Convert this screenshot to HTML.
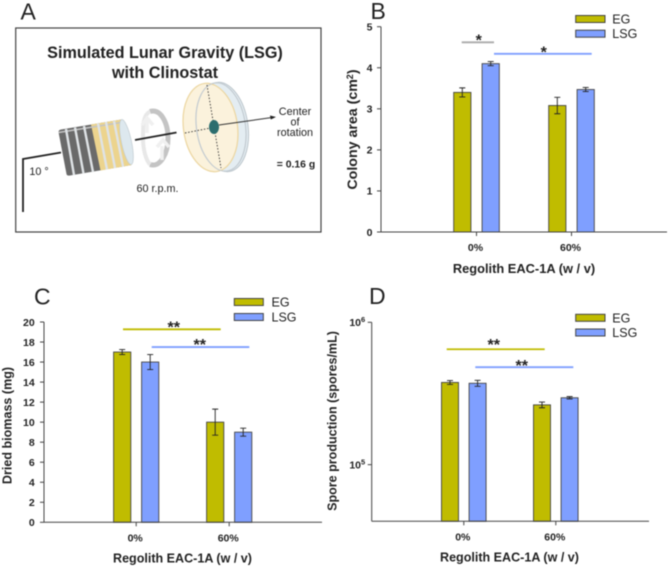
<!DOCTYPE html>
<html lang="en">
<head>
<meta charset="utf-8">
<title>Simulated lunar gravity figure</title>
<style>
html,body{margin:0;padding:0;background:#fff;width:669px;height:567px;overflow:hidden}
svg{display:block;filter:blur(0.4px)}
text{font-family:"Liberation Sans",sans-serif;fill:#222}
.tick{font-size:10.5px;font-weight:bold}
.title{font-size:12.55px;font-weight:bold}
.leg{font-size:12.5px}
.panel{font-size:23px}
.star{font-size:16px;font-weight:bold;text-anchor:middle}
</style>
</head>
<body>
<svg id="fig" xmlns="http://www.w3.org/2000/svg" width="669" height="567" viewBox="0 0 669 567">
  <g id="panel-a">
    <text class="panel" x="20.5" y="19.5">A</text>
    <rect x="15.7" y="28" width="305.3" height="204" fill="#fff" stroke="#444" stroke-width="1.2"/>
    <text x="165" y="58" text-anchor="middle" font-size="16.2" font-weight="bold" fill="#111">Simulated Lunar Gravity (LSG)</text>
    <text x="165" y="78" text-anchor="middle" font-size="16.2" font-weight="bold" fill="#111">with Clinostat</text>
    <path d="M23 212V159L61 152.5" fill="none" stroke="#222" stroke-width="1.8"/>
    <g>
      <path d="M58.5 132Q58.5 130 61 129.5L121.5 119.5L131.5 165L70 175.5Q67 176 66.5 174Z" fill="#6a6a6a"/>
      <path d="M91 124.5L121.5 119.5L131.5 165L100.5 170.5Z" fill="#ecd48e"/>
      <path d="M58.5 132.5L124 122" stroke="#c4c4c4" stroke-width="1.5" fill="none"/>
      <g stroke="#dfe3e6" stroke-width="2.4" fill="none">
        <path d="M66 129L74 175"/><path d="M75 127.5L83.5 173.5"/><path d="M84 126L93 172"/>
        <path d="M98 123.5L107 169.5"/><path d="M106 122L115 168"/><path d="M114 121L123 166.5"/>
      </g>
      <ellipse cx="126.5" cy="142" rx="5" ry="23" transform="rotate(-12 126.5 142)" fill="#dde8ee" stroke="#c2ccd2" stroke-width="0.7"/>
    </g>
    <g>
      <path d="M150 111.5C160 108 168 122 168 138C168 154 160 168 150 164.5" fill="none" stroke="#c4c4c4" stroke-width="5"/>
      <path d="M150 111.5C143 115 143 125 143 138C143 150 146 160 150 164.5" fill="none" stroke="#e8e8e8" stroke-width="4"/>
      <path d="M147 133V120M142 125L147 118L153 125M162 146V160M157 147L163 140L169 147" fill="none" stroke="#f0f0f0" stroke-width="3.5"/>
    </g>
    <path d="M135 140L176.5 132.5" stroke="#222" stroke-width="1.8" fill="none"/>
    <g>
      <ellipse cx="223" cy="127" rx="25" ry="45" transform="rotate(-8 223 127)" fill="#e4edf2" stroke="#bcc6cc" stroke-width="1"/>
      <ellipse cx="210.5" cy="127.5" rx="27" ry="44.5" transform="rotate(-8 210.5 127.5)" fill="#fbf2dc" stroke="#ecd6a0" stroke-width="1.2"/>
      <ellipse cx="221" cy="127" rx="24.5" ry="44.5" transform="rotate(-8 221 127)" fill="none" stroke="#c2cad0" stroke-width="1.2"/>
      <path d="M207 85L221 168M185 133L213 127.5" stroke="#333" stroke-width="0.9" stroke-dasharray="1.5 1.7" fill="none"/>
      <ellipse cx="214" cy="127" rx="5" ry="7" fill="#2c6e6e"/>
    </g>
    <path d="M219 125L272 117.5" stroke="#333" stroke-width="1" fill="none"/>
    <path d="M276 117L270 115.5L270.8 119.5Z" fill="#222"/>
    <g font-size="10.8" text-anchor="middle">
      <text x="295" y="115" fill="#333">Center</text>
      <text x="295" y="125.5" fill="#333">of</text>
      <text x="295" y="136" fill="#333">rotation</text>
      <text x="296" y="167.5" font-weight="bold" font-size="10.4" fill="#222">= 0.16 g</text>
      <text x="39" y="175" fill="#333">10 °</text>
      <text x="157.5" y="192" fill="#333">60 r.p.m.</text>
    </g>
  </g>

  <text class="panel" x="370.5" y="19">B</text>
  <text class="panel" x="34" y="304.5">C</text>
  <text class="panel" x="369" y="304">D</text>

  <g>
    <rect x="575.7" y="15.5" width="29.3" height="7" fill="#c0bc00" stroke="#444"/>
    <text class="leg" x="612.3" y="23.5">EG</text>
    <rect x="575.7" y="30.2" width="29.3" height="7" fill="#7f9fff" stroke="#444"/>
    <text class="leg" x="612.3" y="38">LSG</text>
  </g>
  <g>
    <rect x="234.3" y="298.5" width="29" height="7" fill="#c0bc00" stroke="#444"/>
    <text class="leg" x="271.5" y="306.5">EG</text>
    <rect x="234.3" y="313.5" width="29" height="7" fill="#7f9fff" stroke="#444"/>
    <text class="leg" x="271.5" y="321.5">LSG</text>
  </g>
  <g>
    <rect x="575.7" y="314.3" width="29.3" height="7" fill="#c0bc00" stroke="#444"/>
    <text class="leg" x="612.3" y="322.3">EG</text>
    <rect x="575.7" y="329" width="29.3" height="7" fill="#7f9fff" stroke="#444"/>
    <text class="leg" x="612.3" y="337">LSG</text>
  </g>

  <text class="title" style="font-size:12.85px" text-anchor="middle" x="524" y="273">Regolith EAC-1A (w / v)</text>
  <text class="title" text-anchor="middle" x="182.5" y="562.5">Regolith EAC-1A (w / v)</text>
  <text class="title" text-anchor="middle" x="509.5" y="561.5">Regolith EAC-1A (w / v)</text>
  <text class="title" style="font-size:14.2px" text-anchor="middle" transform="translate(357 129.5) rotate(-90)">Colony area (cm<tspan dy="-4" font-size="9">2</tspan><tspan dy="4">)</tspan></text>
  <text class="title" text-anchor="middle" transform="translate(11.5 425.5) rotate(-90)">Dried biomass (mg)</text>
  <text class="title" text-anchor="middle" transform="translate(336.5 421) rotate(-90)">Spore production (spores/mL)</text>

  <g id="plots"></g>
</svg>
<script>
var categories = ['0%', '60%'];

var colonyEG = [3.4, 3.08];
var colonyLSG = [4.1, 3.47];
var colonyErrEG = [0.11, 0.2];
var colonyErrLSG = [0.05, 0.05];
var colonyTicks = [0, 1, 2, 3, 4, 5];
var colonySigLevels = [4.62, 4.34];
var colonySigLabels = ['*', '*'];

var biomassEG = [17, 10];
var biomassLSG = [16, 9];
var biomassErrEG = [0.25, 1.3];
var biomassErrLSG = [0.75, 0.4];
var biomassTicks = [0, 2, 4, 6, 8, 10, 12, 14, 16, 18, 20];
var biomassSigLevels = [19.27, 17.5];
var biomassSigLabels = ['**', '**'];

var sporeEG = [378000, 263000];
var sporeLSG = [373000, 295000];
var sporeErrEG = [12000, 12000];
var sporeErrLSG = [18000, 5500];
var sporeTicks = [100000, 1000000];
var sporeTickBase = ['10', '10'];
var sporeTickExp = ['5', '6'];
var sporeSigLevels = [647000, 484000];
var sporeSigLabels = ['**', '**'];

var NS = 'http://www.w3.org/2000/svg';
var root = document.getElementById('plots');
var OLIVE = '#c0bc00', BLUE = '#7f9fff', GRAY = '#aaaaaa';

function make(parent, tag, attrs, text) {
  var el = document.createElementNS(NS, tag);
  for (var k in attrs) el.setAttribute(k, attrs[k]);
  if (text !== undefined) el.textContent = text;
  parent.appendChild(el);
  return el;
}
function linearAxis(min, max, y0, y1) {
  return function (v) { return y0 + (v - min) / (max - min) * (y1 - y0); };
}
function logAxis(min, max, y0, y1) {
  var a = Math.log10(min), b = Math.log10(max);
  return function (v) { return y0 + (Math.log10(v) - a) / (b - a) * (y1 - y0); };
}
function bandAxis(first, step) {
  return function (i) { return first + i * step; };
}

function drawChart(c) {
  var g = make(root, 'g', {});
  
  

  var series = [
    { vals: c.eg, errs: c.errEG, color: OLIVE, off: -c.gap, label: 'eg' },
    { vals: c.lsg, errs: c.errLSG, color: BLUE, off: c.gap, label: 'lsg' }
  ];
  series.forEach(function (s) {
    s.vals.forEach(function (v, i) {
      var cx = c.x(i) + s.off, top = c.y(v);
      var bar = make(g, 'rect', { x: cx - c.barW / 2, y: top, width: c.barW, height: c.y0 - top, fill: s.color, stroke: '#444', 'stroke-width': 0.9 });
      
      
      var hi = c.y(v + s.errs[i]), lo = c.y(v - s.errs[i]);
      var err = make(g, 'path', { d: 'M' + (cx - 3) + ' ' + hi + 'H' + (cx + 3) + 'M' + cx + ' ' + hi + 'V' + lo + 'M' + (cx - 3) + ' ' + lo + 'H' + (cx + 3), fill: 'none', stroke: '#222', 'stroke-width': 0.9 });
      
      
    });
  });

  var yAxis = make(g, 'path', { d: 'M' + c.x0 + ' ' + c.yTop + 'V' + c.y0, stroke: '#444', 'stroke-width': 1, fill: 'none' });
  
  
  var xAxis = make(g, 'path', { d: 'M' + c.x0 + ' ' + c.y0 + 'H' + c.xEnd, stroke: '#444', 'stroke-width': 1, fill: 'none' });
  
  

  c.ticks.forEach(function (t, i) {
    var py = c.y(t);
    var tk = make(g, 'path', { d: 'M' + (c.x0 - 4) + ' ' + py + 'H' + c.x0, stroke: '#444', 'stroke-width': 1 });
    
    
    var lab = make(g, 'text', { 'class': 'tick', x: c.x0 - c.labelGap, y: py + 3.8, 'text-anchor': 'end' });
    
    
    if (c.tickBase) {
      lab.textContent = c.tickBase[i];
      make(lab, 'tspan', { dy: -4, 'font-size': 7.5 }, c.tickExp[i]);
    } else {
      lab.textContent = String(t);
    }
  });

  categories.forEach(function (cat, i) {
    var px = c.x(i);
    var tk = make(g, 'path', { d: 'M' + px + ' ' + c.y0 + 'v4', stroke: '#444', 'stroke-width': 1 });
    
    
    var lab = make(g, 'text', { 'class': 'tick', x: px - 1, y: c.catY, 'text-anchor': 'middle' }, cat);
    
    
  });

  c.sig.forEach(function (s, i) {
    var py = c.y(c.sigLevels[i]);
    var line = make(g, 'path', { d: 'M' + s.x1 + ' ' + py + 'H' + s.x2, stroke: s.color, 'stroke-width': 1.8, fill: 'none' });
    
    
    var st = make(g, 'text', { 'class': 'star', x: s.sx, y: py + s.dy }, c.sigLabels[i]);
    
    
  });
}

drawChart({
  name: 'colony-area-chart', x0: 381, xEnd: 667, y0: 232, yTop: 26.7,
  y: linearAxis(0, 5, 232, 26.7), x: bandAxis(476.5, 95), gap: 14.2, barW: 17.2,
  eg: colonyEG, lsg: colonyLSG, errEG: colonyErrEG, errLSG: colonyErrLSG,
  ticks: colonyTicks, labelGap: 8.5, catY: 251,
  sigLevels: colonySigLevels, sigLabels: colonySigLabels,
  sig: [{ x1: 461.7, x2: 494, color: GRAY, sx: 478.7, dy: 3 }, { x1: 494, x2: 591.7, color: BLUE, sx: 543.7, dy: 3.6 }]
});
drawChart({
  name: 'dried-biomass-chart', x0: 44, xEnd: 322, y0: 522.3, yTop: 322,
  y: linearAxis(0, 20, 522.3, 322), x: bandAxis(136.2, 93), gap: 14, barW: 17.2,
  eg: biomassEG, lsg: biomassLSG, errEG: biomassErrEG, errLSG: biomassErrLSG,
  ticks: biomassTicks, labelGap: 9.3, catY: 541.5,
  sigLevels: biomassSigLevels, sigLabels: biomassSigLabels,
  sig: [{ x1: 123, x2: 220.7, color: OLIVE, sx: 173.7, dy: 3 }, { x1: 151.7, x2: 249.3, color: BLUE, sx: 199.7, dy: 3 }]
});
drawChart({
  name: 'spore-production-chart', x0: 371.7, xEnd: 649, y0: 521.3, yTop: 322.3,
  y: logAxis(40000, 1000000, 521.3, 322.3), x: bandAxis(463.8, 92), gap: 13.8, barW: 17,
  eg: sporeEG, lsg: sporeLSG, errEG: sporeErrEG, errLSG: sporeErrLSG,
  ticks: sporeTicks, tickBase: sporeTickBase, tickExp: sporeTickExp, labelGap: 6.5, catY: 540.5,
  sigLevels: sporeSigLevels, sigLabels: sporeSigLabels,
  sig: [{ x1: 446.7, x2: 544.7, color: OLIVE, sx: 493.7, dy: 1 }, { x1: 475.3, x2: 573.3, color: BLUE, sx: 521.7, dy: 4 }]
});
</script>
</body>
</html>
